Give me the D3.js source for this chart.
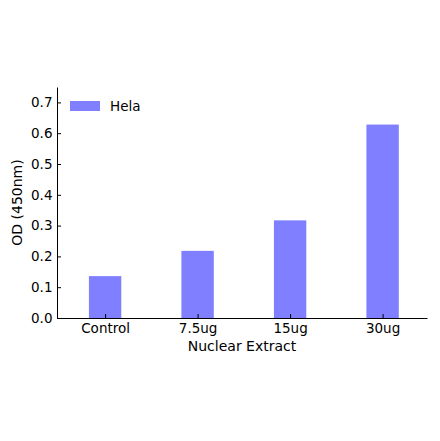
<!DOCTYPE html>
<html>
<head>
<meta charset="utf-8">
<script src="https://cdn.jsdelivr.net/npm/d3@7"></script>
<style>
  body { margin: 0; background: #fff; }
  text { font-family: "DejaVu Sans", sans-serif; fill: #000; }
</style>
</head>
<body>
<div class="graph"></div>
<script>
  // values
  let categories = ["Control", "7.5ug", "15ug", "30ug"];
  let hela = [0.136, 0.218, 0.317, 0.628];
  let yTicks = [0.0, 0.1, 0.2, 0.3, 0.4, 0.5, 0.6, 0.7];
  let seriesName = "Hela";

  let WIDTH = 440, HEIGHT = 441;
  let PAD = {left: 57, right: 13, top: 87, bottom: 123};

  let svg = d3.select("div.graph").append("svg")
      .attr("width", WIDTH)
      .attr("height", HEIGHT);

  let x = d3.scaleLinear()
      .domain([-0.52, 3.48])
      .range([PAD.left, WIDTH - PAD.right]);
  let y = d3.scaleLinear()
      .domain([0, 0.75])
      .range([HEIGHT - PAD.bottom, PAD.top]);

  let barW = x(0.35) - x(0);
  let TICK_FS = "13.5px", LABEL_FS = "14px";

  // bars
  svg.selectAll("rect.bar")
    .data(hela)
    .enter()
    .append("rect")
    .classed("bar", true)
    .attr("x", (d, i) => x(i) - barW / 2)
    .attr("y", d => y(d))
    .attr("width", barW)
    .attr("height", d => y(0) - y(d))
    .attr("fill", "#7f7fff");

  // y axis (ticks pointing inward)
  let yAxis = svg.append("g")
      .attr("transform", "translate(" + PAD.left + ",0)")
      .call(d3.axisLeft(y).tickValues(yTicks).tickFormat(d3.format(".1f"))
            .tickSizeInner(-4).tickSizeOuter(0).tickPadding(4.5));
  yAxis.select(".domain").attr("stroke", "#000").attr("stroke-width", 1);
  yAxis.selectAll("text").style("font-size", TICK_FS).attr("fill", "#000");

  // x axis
  let xAxis = svg.append("g")
      .attr("transform", "translate(0," + y(0) + ")")
      .call(d3.axisBottom(x).tickValues(d3.range(categories.length))
            .tickFormat(i => categories[i])
            .tickSizeInner(-4).tickSizeOuter(0).tickPadding(5));
  xAxis.select(".domain").attr("stroke", "#000").attr("stroke-width", 1);
  xAxis.selectAll("text").style("font-size", TICK_FS).attr("fill", "#000");

  // axis labels
  svg.append("text")
    .attr("transform", "translate(22," + ((y(0) + y(0.75)) / 2) + ") rotate(-90)")
    .attr("text-anchor", "middle")
    .style("font-size", LABEL_FS)
    .text("OD (450nm)");

  svg.append("text")
    .attr("x", (x.range()[0] + x.range()[1]) / 2)
    .attr("y", 351)
    .attr("text-anchor", "middle")
    .style("font-size", LABEL_FS)
    .text("Nuclear Extract");

  // legend
  let legend = svg.append("g");
  legend.append("rect")
    .attr("x", 70).attr("y", 101)
    .attr("width", 30).attr("height", 10)
    .attr("fill", "#7f7fff");
  legend.append("text")
    .attr("x", 110).attr("y", 111)
    .style("font-size", TICK_FS)
    .text(seriesName);
</script>
</body>
</html>
